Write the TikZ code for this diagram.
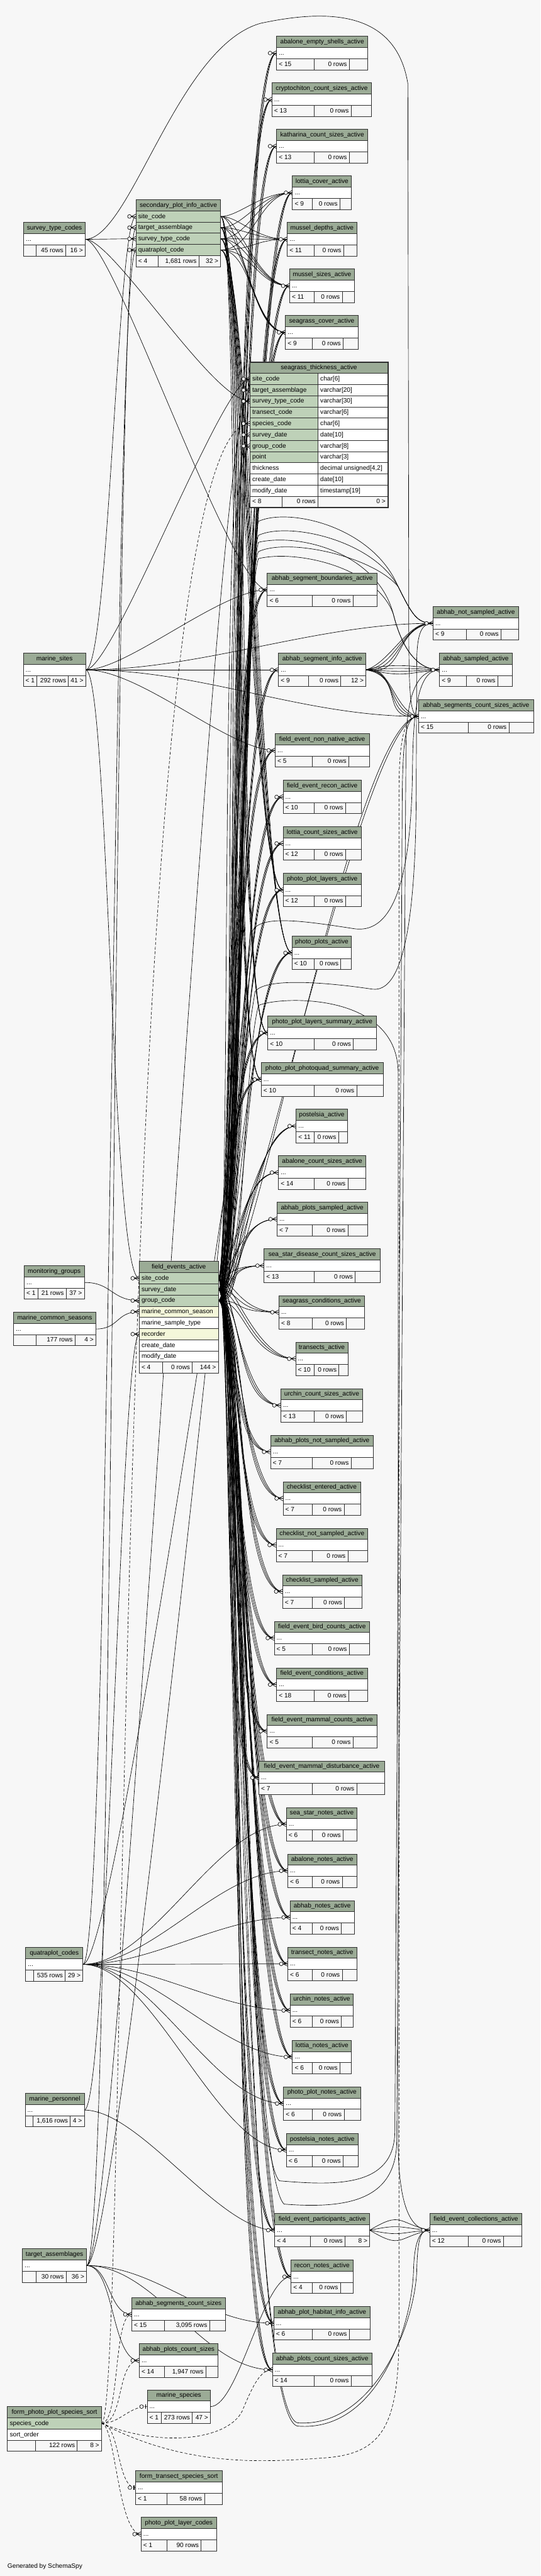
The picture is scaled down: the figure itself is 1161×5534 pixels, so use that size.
\documentclass[tikz,border=0pt]{standalone}
\usepackage{fontspec}
\setmainfont{Liberation Sans}
\definecolor{bgc}{HTML}{F7F7F7}
\definecolor{hdrc}{HTML}{9BAB96}
\definecolor{pkc}{HTML}{BED1B8}
\definecolor{fkc}{HTML}{F4F7DA}
\definecolor{lc}{HTML}{2F2F2F}
\pgfdeclarelayer{bg}
\pgfdeclarelayer{edges}
\pgfsetlayers{bg,edges,main}

% footer: id, anchor, width, divider 1, divider 2, left, middle, right
\newcommand\ftr[8]{%
  \node[cell, fill=bgc] (#1-a) at (#2) {\makebox[#4pt][l]{\hspace{5pt}#6}};
  \node[cell, fill=bgc] (#1-b) at (#1-a.north east) {\makebox[\dimexpr#5pt-#4pt\relax][r]{#7\hspace{5pt}}};
  \node[cell, fill=bgc] (#1-c) at (#1-b.north east) {\makebox[\dimexpr#3pt-#5pt\relax][r]{#8\hspace{5pt}}};}
% compact table: id, position, width, divider 1, divider 2, title, footer texts
\newcommand\tbl[9]{%
  \node[cell, fill=hdrc] (#1-h) at (#2) {\makebox[#3pt]{#6}};
  \node[cell, fill=white] (#1) at (#1-h.south west) {\makebox[#3pt][l]{\hspace{5pt}...}};
  \ftr{#1}{#1.south west}{#3}{#4}{#5}{#7}{#8}{#9}}
\newcommand\fk[5][]{\draw[fkl,#1] (#2) .. controls +(#4,0) and +(-#5,0) .. (#3);}
\newcommand\crow[1]{%
  \draw[mk] (#1) ++(-10,0) -- ++(10,5) ++(-10,-5) -- ++(10,-5) ++(-10,5) -- ++(10,0);
  \draw[mk, fill=bgc] (#1) ++(-14,0) circle[radius=4];}
\newcommand\zo[1]{%
  \draw[mk, line width=2pt] (#1) ++(-3,-5) -- ++(0,10);
  \draw[mk, fill=bgc] (#1) ++(-12,0) circle[radius=4];}

\begin{document}
\catcode`\_=12
\begin{tikzpicture}[x=1pt, y=-1pt,
    cell/.style={draw=lc, line width=1pt, anchor=north west, inner sep=0pt, outer sep=0pt,
      minimum height=24pt, text height=11pt, text depth=3pt, font=\fontsize{13.7pt}{16pt}\selectfont},
    fkl/.style={line width=0.9pt},
    ifk/.style={dash pattern=on 6pt off 4pt},
    mk/.style={line width=0.9pt}]
\useasboundingbox (0,0) rectangle (1161,5534);
\begin{pgfonlayer}{bg}
  \fill[bgc] (0,0) rectangle (1161,5534);
\end{pgfonlayer}

% lookup tables
\tbl{stc}{51,478}{132}{26}{90}{survey_type_codes}{}{45 rows}{16 >}
\tbl{ms}{50,1403}{134}{29}{97}{marine_sites}{< 1}{292 rows}{41 >}
\tbl{mg}{52,2719}{129}{30}{90}{monitoring_groups}{< 1}{21 rows}{37 >}
\tbl{mcs}{29,2819}{177}{48}{132}{marine_common_seasons}{}{177 rows}{4 >}
\tbl{qc}{55,4184}{123}{17}{85}{quatraplot_codes}{}{535 rows}{29 >}
\tbl{mp}{54,4497}{127}{17}{97}{marine_personnel}{}{1,616 rows}{4 >}
\tbl{ta}{48,4831}{138}{29}{94}{target_assemblages}{}{30 rows}{36 >}

\node[cell, fill=hdrc] (spi-h) at (292,429) {\makebox[182pt]{secondary_plot_info_active}};
\foreach \rr [count=\ri, remember=\ri as \rj (initially h)] in {site_code,target_assemblage,survey_type_code,quatraplot_code}
  \node[cell, fill=pkc] (spi-\ri) at (spi-\rj.south west) {\makebox[182pt][l]{\hspace{5pt}\rr}};
\ftr{spi}{spi-4.south west}{182}{47}{135}{< 4}{1,681 rows}{32 >}

\node[cell, fill=hdrc] (fe-h) at (299,2710) {\makebox[170pt]{field_events_active}};
\foreach \rr/\cc [count=\ri, remember=\ri as \rj (initially h)] in {site_code/pkc,survey_date/pkc,group_code/pkc,marine_common_season/fkc,marine_sample_type/white,recorder/fkc,create_date/white,modify_date/white}
  \node[cell, fill=\cc] (fe-\ri) at (fe-\rj.south west) {\makebox[170pt][l]{\hspace{5pt}\rr}};
\ftr{fe}{fe-8.south west}{170}{50}{114}{< 4}{0 rows}{144 >}

\tbl{ascs}{283,4936}{201}{70}{167}{abhab_segments_count_sizes}{< 15}{3,095 rows}{}
\tbl{apcs}{299,5035}{169}{54}{143}{abhab_plots_count_sizes}{< 14}{1,947 rows}{}
\tbl{msp}{316,5134}{136}{30}{97}{marine_species}{< 1}{273 rows}{47 >}
\node[cell, fill=hdrc] (fpps-h) at (16,5170) {\makebox[202pt]{form_photo_plot_species_sort}};
\node[cell, fill=pkc] (fpps-1) at (fpps-h.south west) {\makebox[202pt][l]{\hspace{5pt}species_code}};
\node[cell, fill=white] (fpps-2) at (fpps-1.south west) {\makebox[202pt][l]{\hspace{5pt}sort_order}};
\ftr{fpps}{fpps-2.south west}{202}{60}{150}{}{122 rows}{8 >}
\tbl{ftss}{291,5308}{186}{68}{148}{form_transect_species_sort}{< 1}{58 rows}{}
\tbl{pplc}{303,5408}{162}{56}{129}{photo_plot_layer_codes}{< 1}{90 rows}{}

% child tables
\tbl{aes}{594,78}{196}{81}{156}{abalone_empty_shells_active}{< 15}{0 rows}{}
\tbl{ccs}{584,178}{214}{91}{170}{cryptochiton_count_sizes_active}{< 13}{0 rows}{}
\tbl{kcs}{594,278}{196}{81}{156}{katharina_count_sizes_active}{< 13}{0 rows}{}
\tbl{lcv}{628,378}{127}{43}{102}{lottia_cover_active}{< 9}{0 rows}{}
\tbl{mde}{617,478}{149}{58}{121}{mussel_depths_active}{< 11}{0 rows}{}
\tbl{msz}{622,578}{139}{53}{113}{mussel_sizes_active}{< 11}{0 rows}{}
\tbl{sgc}{613,678}{156}{58}{124}{seagrass_cover_active}{< 9}{0 rows}{}

\node[cell, fill=hdrc] (sgt-h) at (537,778) {\makebox[296pt]{seagrass_thickness_active}};
\foreach \rr/\ty/\cc [count=\ri, remember=\ri as \rj (initially h)] in {site_code/char[6]/pkc,target_assemblage/varchar[20]/pkc,survey_type_code/varchar[30]/pkc,transect_code/varchar[6]/pkc,species_code/char[6]/pkc,survey_date/date[10]/pkc,group_code/varchar[8]/pkc,point/varchar[3]/pkc,thickness/{decimal unsigned[4,2]}/white,create_date/date[10]/white,modify_date/timestamp[19]/white}
{\node[cell, fill=\cc] (sgt-\ri) at (sgt-\rj.south west) {\makebox[146pt][l]{\hspace{5pt}\rr}};
 \node[cell, fill=white] (sgt-t\ri) at (sgt-\ri.north east) {\makebox[150pt][l]{\hspace{5pt}\ty}};}
\ftr{sgt}{sgt-11.south west}{296}{69}{146}{< 8}{0 rows}{0 >}
\draw[lc, line width=2.6pt] (sgt-h.north west) rectangle (sgt-c.south east);

\tbl{asb}{574,1231}{236}{97}{184}{abhab_segment_boundaries_active}{< 6}{0 rows}{}
\tbl{asi}{598,1403}{188}{64}{134}{abhab_segment_info_active}{< 9}{0 rows}{12 >}
\tbl{fenn}{591,1576}{202}{80}{158}{field_event_non_native_active}{< 5}{0 rows}{}
\tbl{fer}{608,1676}{168}{67}{134}{field_event_recon_active}{< 10}{0 rows}{}
\tbl{lcs}{608,1776}{168}{67}{134}{lottia_count_sizes_active}{< 12}{0 rows}{}
\tbl{ppl}{608,1876}{168}{67}{134}{photo_plot_layers_active}{< 12}{0 rows}{}
\tbl{pp}{627,2011}{128}{48}{105}{photo_plots_active}{< 10}{0 rows}{}
\tbl{ppls}{575,2183}{234}{100}{184}{photo_plot_layers_summary_active}{< 10}{0 rows}{}
\tbl{ppps}{561,2283}{262}{114}{205}{photo_plot_photoquad_summary_active}{< 10}{0 rows}{}
\tbl{pst}{636,2383}{110}{39}{91}{postelsia_active}{< 11}{0 rows}{}
\tbl{acs}{598,2483}{188}{77}{149}{abalone_count_sizes_active}{< 14}{0 rows}{}
\tbl{aps}{595,2583}{194}{76}{152}{abhab_plots_sampled_active}{< 7}{0 rows}{}
\tbl{ssd}{567,2683}{250}{108}{196}{sea_star_disease_count_sizes_active}{< 13}{0 rows}{}
\tbl{sgcd}{599,2783}{184}{72}{145}{seagrass_conditions_active}{< 8}{0 rows}{}
\tbl{tr}{635,2883}{112}{40}{93}{transects_active}{< 10}{0 rows}{}
\tbl{ucs}{603,2983}{176}{72}{141}{urchin_count_sizes_active}{< 13}{0 rows}{}
\tbl{apns}{581,3083}{221}{90}{173}{abhab_plots_not_sampled_active}{< 7}{0 rows}{}
\tbl{cle}{608,3183}{166}{63}{131}{checklist_entered_active}{< 7}{0 rows}{}
\tbl{clns}{593,3283}{197}{78}{154}{checklist_not_sampled_active}{< 7}{0 rows}{}
\tbl{cls}{607,3383}{170}{64}{133}{checklist_sampled_active}{< 7}{0 rows}{}
\tbl{febc}{589,3483}{205}{82}{161}{field_event_bird_counts_active}{< 5}{0 rows}{}
\tbl{fec}{594,3583}{195}{81}{155}{field_event_conditions_active}{< 18}{0 rows}{}
\tbl{femc}{574,3683}{236}{97}{184}{field_event_mammal_counts_active}{< 5}{0 rows}{}
\tbl{femd}{556,3783}{270}{115}{210}{field_event_mammal_disturbance_active}{< 7}{0 rows}{}
\tbl{ssn}{615,3883}{152}{56}{122}{sea_star_notes_active}{< 6}{0 rows}{}
\tbl{abn}{618,3983}{148}{53}{117}{abalone_notes_active}{< 6}{0 rows}{}
\tbl{ahn}{623,4083}{138}{48}{110}{abhab_notes_active}{< 4}{0 rows}{}
\tbl{trn}{618,4183}{148}{53}{117}{transect_notes_active}{< 6}{0 rows}{}
\tbl{urn}{623,4283}{136}{48}{110}{urchin_notes_active}{< 6}{0 rows}{}
\tbl{ltn}{628,4383}{127}{43}{102}{lottia_notes_active}{< 6}{0 rows}{}
\tbl{ppn}{609,4483}{165}{62}{130}{photo_plot_notes_active}{< 6}{0 rows}{}
\tbl{psn}{615,4583}{154}{56}{122}{postelsia_notes_active}{< 6}{0 rows}{}
\tbl{fep}{590,4755}{204}{76}{151}{field_event_participants_active}{< 4}{0 rows}{8 >}
\tbl{rcn}{625,4855}{133}{46}{106}{recon_notes_active}{< 4}{0 rows}{}
\tbl{aphi}{588,4955}{207}{83}{162}{abhab_plot_habitat_info_active}{< 6}{0 rows}{}
\tbl{apcsa}{585,5055}{214}{90}{169}{abhab_plots_count_sizes_active}{< 14}{0 rows}{}

\tbl{ans}{930,1303}{184}{72}{146}{abhab_not_sampled_active}{< 9}{0 rows}{}
\tbl{asa}{944,1403}{156}{58}{125}{abhab_sampled_active}{< 9}{0 rows}{}
\tbl{ascsa}{899,1503}{247}{107}{194}{abhab_segments_count_sizes_active}{< 15}{0 rows}{}
\tbl{fecl}{923,4755}{198}{83}{158}{field_event_collections_active}{< 12}{0 rows}{}

\node[anchor=west, inner sep=0pt, font=\fontsize{13.7pt}{16pt}\selectfont] (gen) at (16,5513) {Generated by SchemaSpy};

\begin{pgfonlayer}{edges}
\foreach \tb in {aes,ccs,kcs,lcv,mde,msz,sgc,asb,asi,fenn,fer,lcs,ppl,pp,ppls,ppps,pst,acs,aps,ssd,sgcd,tr,ucs,apns,cle,clns,cls,febc,fec,femc,femd,ssn,abn,ahn,trn,urn,ltn,ppn,psn,fep,rcn,aphi,apcsa}
  {\fk{fe-1.east}{\tb.west}{30}{85}\fk{fe-2.east}{\tb.west}{45}{95}\fk{fe-3.east}{\tb.west}{60}{105}}
\fk{fe-1.east}{sgt-1.west}{30}{70}
\fk{fe-2.east}{sgt-6.west}{45}{70}
\fk{fe-3.east}{sgt-7.west}{60}{70}
\foreach \tb in {lcv,mde,msz,sgc,ppl,pp,ppls,ppps}
  \foreach \kk/\ax in {1/40,2/50,3/60,4/70} {\fk{spi-\kk.east}{\tb.west}{\ax}{70}}
\foreach \tb in {ans,asa,ascsa}
  \foreach \kk in {1,...,4} {\draw[fkl] (asi.east) .. controls +(40+12*\kk,{(\kk-2.5)*10}) and +(-40-12*\kk,{(\kk-2.5)*6}) .. (\tb.west);}
\foreach \kk in {1,...,4} {\draw[fkl] (fep.east) .. controls +(70,{(\kk-2.5)*28}) and +(-70,{(\kk-2.5)*10}) .. (fecl.west);}

\foreach \kk/\yy in {1/1120,2/1150,3/1185}
  {\draw[fkl] (fe-\kk.east) .. controls +(45,0) and (518,1260) .. (555,\yy) .. controls (620,{\yy-30}) and (800,{\yy+10}) .. (855,1260) .. controls (885,1320) and (895,1339) .. (ans.west);}
\foreach \kk/\yy in {1/1165,3/1200}
  {\draw[fkl] (fe-\kk.east) .. controls +(45,0) and (520,1300) .. (555,\yy) .. controls (640,{\yy-20}) and (810,{\yy+20}) .. (845,1320) .. controls (865,1400) and (900,1439) .. (asa.west);}
\draw[fkl] (fe-1.east) .. controls +(40,0) and (518,4600) .. (600,4685) .. controls (720,4695) and (846,4700) .. (848,4580) -- (864,1700) .. controls (866,1580) and (872,1539) .. (ascsa.west);
\draw[fkl] (fe-2.east) .. controls +(55,0) and (524,4650) .. (610,4735) .. controls (740,4745) and (851,4730) .. (852,4600) -- (872,1600) .. controls (874,1470) and (905,1439) .. (asa.west);
\fk{fe-2.east}{ascsa.west}{60}{120}
\fk{fe-3.east}{ascsa.west}{70}{140}
\draw[fkl] (fe-1.east) .. controls +(40,0) and (516,5190) .. (640,5205) .. controls (800,5215) and (890,5000) .. (895,4880) .. controls (897,4800) and (905,4791) .. (fecl.west);
\draw[fkl] (fe-2.east) .. controls +(55,0) and (512,5200) .. (640,5212) .. controls (810,5225) and (884,5000) .. (888,4880) .. controls (890,4805) and (905,4791) .. (fecl.west);
\draw[fkl] (fe-3.east) .. controls +(60,0) and (520,2300) .. (555,2160) .. controls (600,2140) and (850,2130) .. (855,2300) -- (855,4600) .. controls (856,4760) and (890,4791) .. (fecl.west);

\fk{stc.east}{spi-3.west}{50}{50}
\fk{stc.east}{sgt-3.west}{60}{80}
\fk{stc.east}{asb.west}{60}{80}
\draw[fkl] (stc.east) .. controls (280,514) and (380,100) .. (560,50) .. controls (700,20) and (850,20) .. (876,180) -- (878,1380) .. controls (879,1500) and (882,1539) .. (ascsa.west);
\fk{ms.east}{spi-1.west}{50}{40}
\fk{ms.east}{sgt-1.west}{60}{60}
\fk{ms.east}{asb.west}{90}{100}
\fk{ms.east}{asi.west}{100}{100}
\fk{ms.east}{ans.west}{250}{250}
\fk{ms.east}{ascsa.west}{250}{250}
\fk{ms.east}{fenn.west}{120}{100}
\fk{ms.east}{fe-1.west}{50}{60}
\fk{mg.east}{fe-3.west}{60}{60}
\fk{mcs.east}{fe-4.west}{50}{50}
\fk{mp.east}{fe-6.west}{50}{40}
\fk{mp.east}{fep.west}{120}{120}
\fk{qc.east}{spi-4.west}{60}{50}
\foreach \tb in {ssn,abn,ahn,trn,urn,ltn,ppn,psn} {\fk{qc.east}{\tb.west}{150}{150}}
\draw[fkl] (qc.east) .. controls +(70,0) and (526,2250) .. (548,2130) .. controls (570,2100) and (700,2110) .. (800,2125) .. controls (880,2135) and (893,1900) .. (894,1700) -- (895,1420) .. controls (896,1360) and (905,1339) .. (ans.west);
\fk{ta.east}{spi-2.west}{60}{50}
\fk{ta.east}{sgt-2.west}{70}{80}
\fk{ta.east}{ascs.west}{50}{50}
\fk{ta.east}{apcs.west}{60}{60}
\fk{ta.east}{aphi.west}{150}{150}
\fk{ta.east}{apcsa.west}{150}{150}
\draw[fkl] (ta.east) .. controls +(70,0) and (520,2150) .. (542,2000) .. controls (560,1965) and (650,1978) .. (760,1995) .. controls (870,2012) and (884,1800) .. (886,1650) .. controls (887,1500) and (905,1439) .. (asa.west);
\fk{msp.east}{rcn.west}{60}{60}

\fk[ifk]{fpps-1.east}{msp.west}{40}{40}
\fk[ifk]{fpps-1.east}{ftss.west}{40}{40}
\fk[ifk]{fpps-1.east}{pplc.west}{30}{50}
\fk[ifk]{fpps-1.east}{ascs.west}{40}{40}
\fk[ifk]{fpps-1.east}{apcs.west}{50}{50}
\fk[ifk]{fpps-1.east}{sgt-5.west}{60}{300}
\draw[fkl,ifk] (fpps-1.east) .. controls (350,5260) and (490,5240) .. (520,5180) .. controls (545,5120) and (560,5091) .. (apcsa.west);
\draw[fkl,ifk] (fpps-1.east) .. controls (400,5300) and (560,5290) .. (700,5280) .. controls (830,5270) and (857,5200) .. (857,5000) -- (857,1700) .. controls (857,1580) and (870,1539) .. (ascsa.west);
\end{pgfonlayer}

\foreach \tb in {aes,ccs,kcs,lcv,mde,msz,sgc,sgt-1,sgt-2,sgt-3,sgt-5,sgt-6,sgt-7,asb,asi,ans,asa,ascsa,fenn,fer,lcs,ppl,pp,ppls,ppps,pst,acs,aps,ssd,sgcd,tr,ucs,apns,cle,clns,cls,febc,fec,femc,femd,ssn,abn,ahn,trn,urn,ltn,ppn,psn,fep,fecl,rcn,aphi,apcsa,spi-1,spi-2,spi-3,spi-4,fe-1,fe-3,fe-4,fe-6,ascs,apcs,pplc}
  {\crow{\tb.west}}
\zo{msp.west}
\zo{ftss.west}
\end{tikzpicture}
\end{document}
